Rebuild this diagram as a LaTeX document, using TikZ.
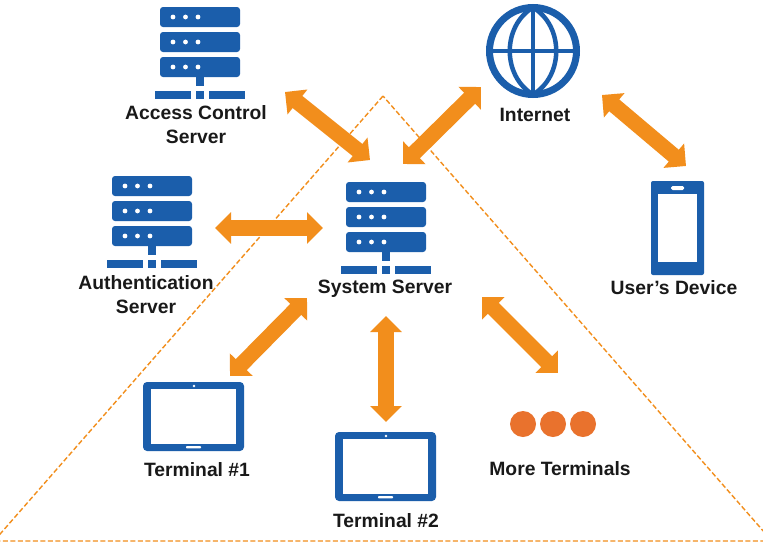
\documentclass[tikz,border=0pt]{standalone}
\usepackage{fontspec}
\setmainfont{Liberation Sans}
\usetikzlibrary{arrows.meta}
\definecolor{iconblue}{HTML}{1B5EAB}
\definecolor{arroworange}{HTML}{F28E1C}
\definecolor{dotorange}{HTML}{E9722D}
\tikzset{
  x=1pt,y=-1pt,
  icon/.style={fill=iconblue,draw=none},
  hole/.style={fill=white,draw=none},
  lbl/.style={font=\fontsize{19.3}{22}\selectfont\bfseries,text=black!90,inner sep=0pt,align=center},
  dbl/.style={draw=arroworange,line width=15.5pt,{Triangle[width=31pt,length=16pt]}-{Triangle[width=31pt,length=16pt]}},
  serverico/.pic={
    \node[inner sep=0pt,minimum width=90pt,minimum height=92pt] (-box) at (40,46) {};
    \foreach \yy in {0,25,50}{
      \fill[icon,rounded corners=3pt] (0,\yy) rectangle (80,\yy+20);
      \foreach \xx in {13,25.5,38}{\fill[hole] (\xx,\yy+10) circle (2.4pt);}
    }
    \fill[icon] (36,70) rectangle (44,79);
    \fill[icon] (-5,84) rectangle (31,92);
    \fill[icon] (36,84) rectangle (44,92);
    \fill[icon] (49,84) rectangle (85,92);
  },
  tabletico/.pic={
    \node[inner sep=0pt,minimum width=101pt,minimum height=69pt] (-box) at (50.5,34.5) {};
    \fill[icon,rounded corners=4pt] (0,0) rectangle (101,69);
    \fill[hole] (8,7) rectangle (93,62);
    \fill[hole] (51,4) circle (1.4pt);
    \fill[hole,rounded corners=0.8pt] (43,64) rectangle (58,66.4);
  },
}
\begin{document}
\begin{tikzpicture}
\useasboundingbox (0,0) rectangle (763,544);
\fill[white] (0,0) rectangle (763,544);
% dashed triangle
\begin{scope}
  \clip (0,0) rectangle (763,544);
  \coordinate (apex) at (383,96);
  \coordinate (triL) at (-6,541);
  \coordinate (triR) at (772,541);
  \draw[arroworange,line width=1.4pt,dash pattern=on 5pt off 2.5pt] (apex) -- (triL) -- (triR) -- cycle;
\end{scope}
% icons
\pic (acs) at (160,7) {serverico};
\pic (auth) at (112,176) {serverico};
\pic (sys) at (346,182) {serverico};
\pic (tone) at (143,382) {tabletico};
\pic (ttwo) at (335,432) {tabletico};
% globe
\node[circle,draw=iconblue,line width=7pt,minimum size=87pt,inner sep=0pt,outer sep=0pt] (net) at (533,51) {};
\draw[iconblue,line width=4.5pt] (net.north) -- (net.south);
\draw[iconblue,line width=4.5pt] (net.west) -- (net.east);
\draw[iconblue,line width=4.5pt] (net.north) .. controls (502,26) and (502,76) .. (net.south);
\draw[iconblue,line width=4.5pt] (net.north) .. controls (564,26) and (564,76) .. (net.south);
% phone
\node[draw=none,fill=iconblue,rounded corners=2pt,minimum width=53pt,minimum height=94pt,inner sep=0pt] (dev) at (677.5,228) {};
\fill[hole] (658,194) rectangle (697,262);
\fill[hole,rounded corners=1.5pt] (671,186) rectangle (684,190);
% more terminals dots
\node[circle,fill=dotorange,minimum size=26pt,inner sep=0pt] (dotA) at (523,424) {};
\node[circle,fill=dotorange,minimum size=26pt,inner sep=0pt] (dotB) at (553,424) {};
\node[circle,fill=dotorange,minimum size=26pt,inner sep=0pt] (dotC) at (583,424) {};
% labels
\node[lbl] (lacs) at (196,125) {Access Control\\[2pt]Server};
\node[lbl] (lauth) at (146,294.5) {Authentication\\[2pt]Server};
\node[lbl] (lsys) at (385,289) {System Server};
\node[lbl] (lnet) at (535,115) {Internet};
\node[lbl] (ldev) at (674,288) {User’s Device};
\node[lbl] (lone) at (197,470) {Terminal \#1};
\node[lbl] (ltwo) at (386,521) {Terminal \#2};
\node[lbl] (lmore) at (560,469) {More Terminals};
% arrow ends
\coordinate (eAcs) at (285,92);   \coordinate (eSysA) at (370,160);
\coordinate (eSysN) at (403,164); \coordinate (eNetS) at (481,87);
\coordinate (eNetD) at (602,95);  \coordinate (eDev) at (686,166);
\coordinate (eAuth) at (215,228); \coordinate (eSysB) at (323,228);
\coordinate (eOne) at (230,376);  \coordinate (eSysC) at (307,298);
\coordinate (eSysD) at (386,316); \coordinate (eTwo) at (386,422);
\coordinate (eSysE) at (482,297); \coordinate (eMore) at (558,373);
\draw[dbl] (eAcs) -- (eSysA);
\draw[dbl] (eSysN) -- (eNetS);
\draw[dbl] (eNetD) -- (eDev);
\draw[dbl] (eAuth) -- (eSysB);
\draw[dbl] (eOne) -- (eSysC);
\draw[dbl] (eSysD) -- (eTwo);
\draw[dbl] (eSysE) -- (eMore);
\end{tikzpicture}
\end{document}
